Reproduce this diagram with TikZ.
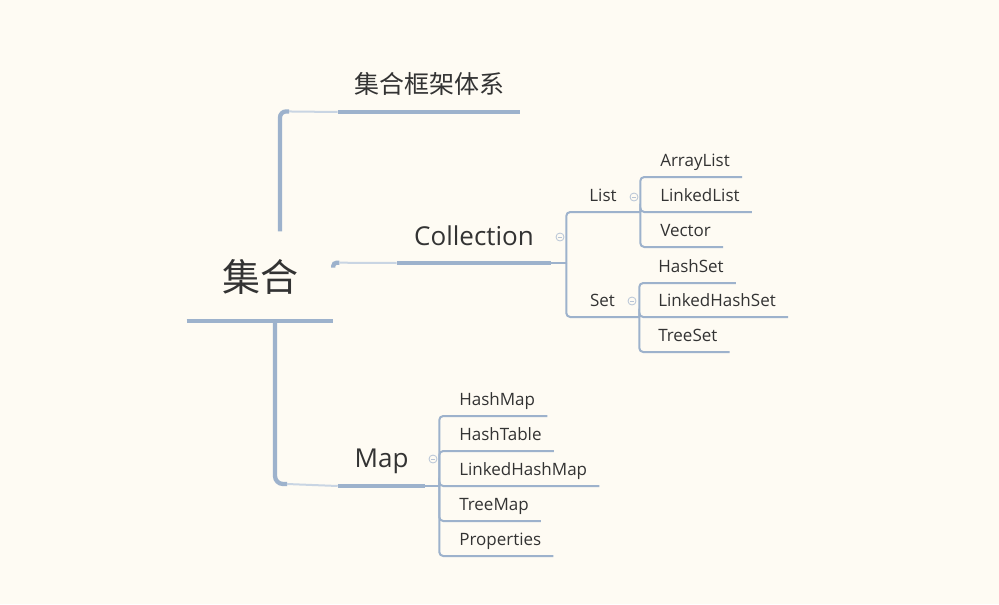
\documentclass[tikz,border=0pt]{standalone}
\usepackage{fontspec}
\setmainfont{Open Sans}
\newfontfamily\cjkfont{Noto Sans CJK SC}

\definecolor{paper}{HTML}{FEFBF3}
\definecolor{branch}{HTML}{9DB2CC}
\definecolor{branchlight}{HTML}{C9D5E3}
\definecolor{foldgray}{HTML}{B7C4D6}
\definecolor{ink}{HTML}{333333}

\tikzset{
  topic/.style={text=ink, inner sep=0pt, anchor=south},
  roottopic/.style={topic, font=\cjkfont\fontsize{28.5}{30}\selectfont,
    minimum width=109.5pt, text height=45pt, text depth=21.75pt},
  maintopic/.style={topic, font=\fontsize{19.5}{22}\selectfont, text depth=13pt},
  subtopic/.style={topic, font=\fontsize{12.75}{15}\selectfont, text depth=7.5pt},
  leaf/.style={text=ink, inner sep=0pt, anchor=south west,
    font=\fontsize{12.75}{15}\selectfont, text depth=7.5pt},
  rootbar/.style={draw=branch, line width=3pt},
  rootlink/.style={draw=branch, line width=3.2pt},
  rootlight/.style={draw=branchlight, line width=1.5pt},
  mainbar/.style={draw=branch, line width=2.3pt},
  leaflink/.style={draw=branch, line width=1.5pt, rounded corners=3pt},
  fold/.style={circle, draw=foldgray, line width=0.6pt, minimum size=6pt, inner sep=0pt,
    path picture={\draw[foldgray, line width=0.6pt]
      ([xshift=1.4pt]path picture bounding box.west) --
      ([xshift=-1.4pt]path picture bounding box.east);}}
}

\begin{document}
\begin{tikzpicture}[x=0.75pt, y=-0.75pt]
  % Draw paper
  \fill[paper] (0,0) rectangle (999,604);
  \useasboundingbox (0,0) rectangle (999,604);

  % Central topic
  \node[roottopic] (root) at (260,321) {集合};
  \draw[rootbar] (root.south west) -- (root.south east);

  % Main topics
  \node[maintopic, font=\cjkfont\fontsize{18.75}{22}\selectfont, text depth=13.5pt,
    minimum width=136.5pt] (frame) at (429,112) {集合框架体系};
  \node[maintopic, minimum width=115.5pt] (coll) at (474,263) {Collection};
  \node[maintopic, text depth=13.5pt, minimum width=65.25pt] (map) at (381.5,486) {Map};
  \foreach \t in {frame,coll,map}
    \draw[mainbar] (\t.south west) -- (\t.south east);

  % Links from the central topic
  \draw[rootlink, rounded corners=4.5pt] ([xshift=15pt]root.north) |- ++(9,-120) coordinate (framebend);
  \draw[rootlight] (framebend) -- (frame.south west);
  \draw[rootlink, rounded corners=2.5pt] ([yshift=6.4pt]root.east) |- ++(6,-5) coordinate (collbend);
  \draw[rootlight] (collbend) -- (coll.south west);
  \draw[rootlink, rounded corners=6pt] ([xshift=11.25pt]root.south) |- ++(12,163) coordinate (mapbend);
  \draw[rootlight] (mapbend) -- (map.south west);

  % Collection groups
  \coordinate (collhub) at ([xshift=11.25pt]coll.south east);
  \draw[leaflink] (coll.south east) -- (collhub);
  \node[subtopic, minimum width=55.5pt] (list) at (603,212) {List};
  \node[subtopic, minimum width=54.75pt] (set) at (602.5,317) {Set};
  \foreach \g in {list,set}
    \draw[leaflink] (collhub) |- (\g.south east);

  % List leaves
  \foreach \name/\txt/\y in {arraylist/ArrayList/177, linkedlist/LinkedList/212, vector/Vector/247}
  {
    \node[leaf] (\name) at (660,\y) {\txt};
    \draw[leaflink] (list.south east) |- (\name.south west) -- ([xshift=9pt]\name.south east);
  }

  % Set leaves
  \foreach \name/\txt/\y in {hashset/HashSet/283, linkedhashset/LinkedHashSet/317, treeset/TreeSet/352}
  {
    \node[leaf] (\name) at (658,\y) {\txt};
    \draw[leaflink] (set.south east) |- (\name.south west) -- ([xshift=9pt]\name.south east);
  }

  % Map leaves
  \coordinate (maphub) at ([xshift=10.5pt]map.south east);
  \draw[leaflink] (map.south east) -- (maphub);
  \foreach \name/\txt/\y in {hashmap/HashMap/416, hashtable/HashTable/451,
    linkedhashmap/LinkedHashMap/486, treemap/TreeMap/521, properties/Properties/556}
  {
    \node[leaf] (\name) at (459,\y) {\txt};
    \draw[leaflink] (maphub) |- (\name.south west) -- ([xshift=9pt]\name.south east);
  }

  % Fold markers
  \node[fold] (collfold) at (560,237) {};
  \node[fold] (listfold) at (634,197) {};
  \node[fold] (setfold) at (632,301) {};
  \node[fold] (mapfold) at (433,459) {};
\end{tikzpicture}
\end{document}
